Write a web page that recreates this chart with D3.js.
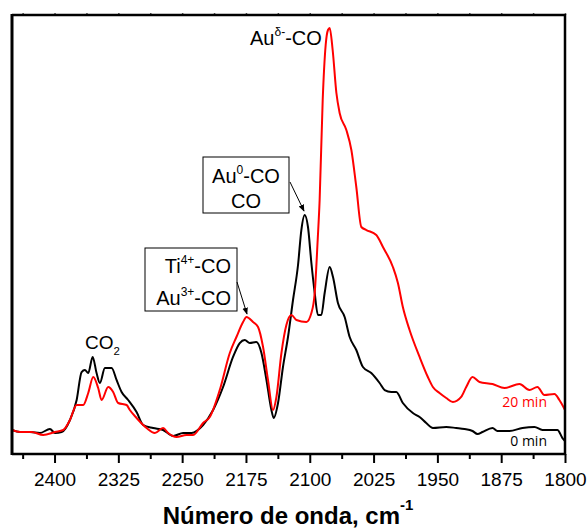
<!DOCTYPE html>
<html>
<head>
<meta charset="utf-8">
<script src="https://cdn.jsdelivr.net/npm/d3@7"></script>
<style>
  html, body { margin: 0; padding: 0; background: #fff; }
  svg text { font-family: "Liberation Sans", Arial, sans-serif; }
</style>
</head>
<body>
<svg id="chart" width="587" height="531"></svg>
<script>
// ---- data (wavenumber cm-1, absorbance a.u.) ----
const wn0 = [2450,2440.6,2428.9,2417.1,2405.4,2399.5,2391.6,2381.9,2374.0,2368.2,2364.3,2360.4,2355.2,2350.6,2346.7,2340.8,2332.9,2327.1,2321.2,2313.5,2303.6,2295.8,2284.1,2272.4,2260.6,2248.9,2239.0,2225.4,2213.6,2201.9,2190.2,2182.3,2176.4,2170.6,2162.7,2156.8,2150.9,2145.1,2142.4,2137.3,2131.5,2125.6,2119.7,2113.8,2109.9,2106.0,2102.1,2098.1,2094.2,2090.4,2086.4,2082.5,2076.6,2072.7,2066.9,2059.0,2053.1,2045.3,2037.5,2027.7,2017.9,2012.0,2004.2,1998.3,1990.6,1978.8,1970.9,1963.1,1955.3,1939.6,1927.9,1918.1,1908.7,1902.8,1897.0,1885.2,1879.4,1865.3,1850.0,1835.9,1826.5,1816.0,1808.9,1803.0,1800];
const abs0 = [5.25,4.79,4.79,4.57,5.48,4.57,4.79,7.53,12.10,18.49,18.95,18.26,21.92,18.26,15.98,19.41,19.41,16.67,13.93,12.10,9.36,6.39,5.71,5.25,3.88,4.57,4.57,6.39,9.82,15.07,21.92,25.11,25.80,25.11,25.34,22.83,16.67,9.82,7.99,11.42,19.63,26.48,34.93,42.92,50.91,54.34,51.60,43.38,36.53,31.51,31.51,36.53,42.47,40.18,34.25,31.05,26.48,23.52,19.63,18.26,15.98,14.38,13.93,13.93,11.42,9.13,8.22,6.85,5.71,5.94,5.71,5.48,5.02,4.34,4.79,5.71,5.02,5.02,5.71,5.94,5.25,5.25,5.25,3.42,2.74];

const wn20 = [2450,2440.6,2426.9,2413.3,2399.5,2389.8,2381.9,2374.0,2366.3,2360.4,2354.5,2348.7,2344.7,2336.9,2331.1,2325.2,2315.3,2311.5,2303.6,2295.8,2291.8,2282.1,2272.4,2266.5,2256.6,2244.9,2237.1,2225.4,2217.5,2205.8,2194.0,2186.2,2178.4,2174.4,2166.7,2160.8,2154.9,2149.1,2143.2,2139.2,2133.3,2127.5,2121.6,2115.7,2104.0,2098.1,2094.2,2090.7,2088.4,2084.8,2081.3,2078.6,2076.6,2073.1,2068.7,2064.9,2057.0,2051.1,2045.3,2039.4,2033.5,2021.8,2014.0,2002.3,1996.4,1990.6,1982.7,1970.9,1961.2,1955.3,1947.5,1939.6,1931.8,1922.0,1916.1,1908.7,1900.5,1885.2,1871.1,1853.5,1841.8,1832.4,1824.2,1812.4,1806.6,1800];
const abs20 = [5.25,4.79,4.79,4.11,4.79,5.25,7.53,10.96,10.96,13.70,17.35,14.84,12.10,15.07,13.93,11.42,10.96,9.82,7.99,6.39,5.71,4.57,5.71,4.57,3.65,4.11,4.11,6.85,8.22,14.38,22.83,26.48,29.91,31.05,29.91,28.77,24.20,16.67,9.82,12.79,22.83,29.22,31.51,30.37,29.91,31.96,36.53,48.63,57.76,80.59,93.15,96.58,97.03,92.01,82.19,77.63,73.74,69.18,60.73,51.60,50.91,49.77,47.03,42.47,38.81,33.33,28.08,21.92,17.35,15.07,13.70,12.56,11.64,12.79,15.07,17.35,16.21,15.75,14.84,15.75,14.38,15.07,13.24,13.47,12.10,9.82];

const majorTicks = [2400,2325,2250,2175,2100,2025,1950,1875,1800];
const minorTicks = [2437.5,2362.5,2287.5,2212.5,2137.5,2062.5,1987.5,1912.5,1837.5];
const xTitle = "Número de onda, cm";
const xTitleSup = "-1";
const seriesLabels = ["0 min", "20 min"];

// ---- layout ----
const svg = d3.select("#chart");
const L = 12, R = 565, T = 15, B = 454;
const x = d3.scaleLinear().domain([2450, 1800]).range([L, R]);
const y = d3.scaleLinear().domain([0, 100]).range([453, T]);

svg.append("defs").append("clipPath").attr("id", "clip")
  .append("rect").attr("x", L).attr("y", T).attr("width", R - L).attr("height", B - T);

svg.select("defs").append("marker")
  .attr("id", "arrow").attr("viewBox", "0 0 10 10").attr("refX", 9).attr("refY", 5)
  .attr("markerWidth", 7).attr("markerHeight", 7).attr("orient", "auto")
  .append("path").attr("d", "M0,1 L10,5 L0,9 Z").attr("fill", "#000");

const line = d3.line().x(d => x(d[0])).y(d => y(d[1])).curve(d3.curveMonotoneX);

const g = svg.append("g").attr("clip-path", "url(#clip)");
g.append("path").datum(wn0.map((w, i) => [w, abs0[i]]))
  .attr("d", line).attr("fill", "none").attr("stroke", "#000").attr("stroke-width", 2);
g.append("path").datum(wn20.map((w, i) => [w, abs20[i]]))
  .attr("d", line).attr("fill", "none").attr("stroke", "#ff0000").attr("stroke-width", 2);

// axes
const xAxis = svg.append("g").attr("transform", `translate(0,${B})`)
  .call(d3.axisBottom(x).tickValues(majorTicks).tickSize(9).tickPadding(10).tickFormat(d3.format("d")));
xAxis.select(".domain").remove();
xAxis.selectAll(".tick line").attr("stroke-width", 2);
xAxis.selectAll(".tick text").attr("font-size", 19).attr("fill", "#000")
  .style("font-family", "'Liberation Sans', Arial, sans-serif");

const xMinor = svg.append("g").attr("transform", `translate(0,${B})`)
  .call(d3.axisBottom(x).tickValues(minorTicks).tickSize(5).tickFormat(""));
xMinor.select(".domain").remove();
xMinor.selectAll(".tick line").attr("stroke-width", 2);

const xTop = svg.append("g").attr("transform", `translate(0,${T})`)
  .call(d3.axisTop(x).tickValues(majorTicks.concat(minorTicks)).tickSize(2).tickFormat(""));
xTop.select(".domain").remove();
xTop.selectAll(".tick line").attr("stroke", "#555").attr("stroke-width", 1.5);

// frame
svg.append("line").attr("x1", L).attr("x2", R).attr("y1", T).attr("y2", T).attr("stroke", "#000").attr("stroke-width", 2.5);
svg.append("line").attr("x1", L).attr("x2", R + 1).attr("y1", B).attr("y2", B).attr("stroke", "#000").attr("stroke-width", 2.5);
svg.append("line").attr("x1", L).attr("x2", L).attr("y1", T - 1).attr("y2", B + 1).attr("stroke", "#000").attr("stroke-width", 3);
svg.append("line").attr("x1", R).attr("x2", R).attr("y1", T - 1).attr("y2", B + 1).attr("stroke", "#000").attr("stroke-width", 2.5);

// title
const t = svg.append("text").attr("x", 288).attr("y", 524).attr("text-anchor", "middle")
  .attr("font-size", 24).attr("font-weight", "bold").attr("fill", "#000");
t.append("tspan").text(xTitle);
t.append("tspan").attr("font-size", 15).attr("dy", -14).text(xTitleSup);

// annotations
function supText(xp, yp, parts, anchor, size) {
  const el = svg.append("text").attr("x", xp).attr("y", yp).attr("text-anchor", anchor || "start")
    .attr("font-size", size).attr("fill", "#000");
  parts.forEach(p => {
    if (p.sup) {
      el.append("tspan").attr("font-size", size * 0.6).attr("dy", -size * 0.45).text(p.t);
    } else if (p.sub) {
      el.append("tspan").attr("font-size", size * 0.6).attr("dy", size * 0.3).text(p.t);
    } else {
      el.append("tspan").attr("dy", p.back || 0).text(p.t);
    }
  });
  return el;
}
supText(250, 45, [{t: "Au"}, {t: "δ-", sup: true}, {t: "-CO", back: 20 * 0.45}], "start", 20);
supText(85, 349, [{t: "CO"}, {t: "2", sub: true}], "start", 19);

// box 1
svg.append("rect").attr("x", 203).attr("y", 157).attr("width", 86).attr("height", 56)
  .attr("fill", "#fff").attr("stroke", "#000").attr("stroke-width", 1);
supText(246, 183, [{t: "Au"}, {t: "0", sup: true}, {t: "-CO", back: 20 * 0.45}], "middle", 20);
supText(246, 208, [{t: "CO"}], "middle", 20);
svg.append("line").attr("x1", 290).attr("y1", 182).attr("x2", 304).attr("y2", 211)
  .attr("stroke", "#000").attr("stroke-width", 1).attr("marker-end", "url(#arrow)");

// box 2
svg.append("rect").attr("x", 145).attr("y", 248).attr("width", 92).attr("height", 63)
  .attr("fill", "#fff").attr("stroke", "#000").attr("stroke-width", 1);
supText(231, 273, [{t: "Ti"}, {t: "4+", sup: true}, {t: "-CO", back: 20 * 0.45}], "end", 20);
supText(231, 305, [{t: "Au"}, {t: "3+", sup: true}, {t: "-CO", back: 20 * 0.45}], "end", 20);
svg.append("line").attr("x1", 237).attr("y1", 282).attr("x2", 247).attr("y2", 314)
  .attr("stroke", "#000").attr("stroke-width", 1).attr("marker-end", "url(#arrow)");

// series labels
svg.append("text").attr("x", 547).attr("y", 446).attr("text-anchor", "end")
  .attr("font-size", 14).style("font-family", "'Open Sans', sans-serif").attr("fill", "#000").text(seriesLabels[0]);
svg.append("text").attr("x", 547).attr("y", 407).attr("text-anchor", "end")
  .attr("font-size", 14).style("font-family", "'Open Sans', sans-serif").attr("fill", "#ff0000").text(seriesLabels[1]);
</script>
</body>
</html>
